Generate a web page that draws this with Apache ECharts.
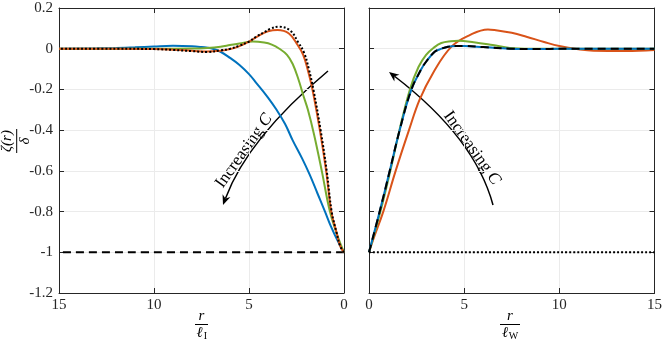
<!DOCTYPE html>
<html>
<head>
<meta charset="utf-8">
<script src="https://cdn.jsdelivr.net/npm/echarts@6/dist/echarts.min.js"></script>
<style>
  html, body { margin: 0; padding: 0; background: #fff; }
  #chart { width: 665px; height: 342px; }
</style>
</head>
<body>
<div id="chart"></div>
<script>
// axis ranges (same for both panels)
const rRange = [0, 15];
const rStep = 5;
const zRange = [-1.2, 0.2];
const zStep = 0.2;

// left panel, r / l_I  ->  [r, zeta/delta]
const leftBlue = [
  [0, -1], [0.3, -0.95], [0.7, -0.87], [1.0, -0.8], [1.4, -0.71], [1.8, -0.62],
  [2.2, -0.54], [2.7, -0.45], [3.1, -0.37], [3.55, -0.3], [4.0, -0.24], [4.6, -0.17],
  [5.0, -0.125], [5.5, -0.08], [6.0, -0.045], [6.5, -0.015], [7.0, 0.002], [7.5, 0.008],
  [8, 0.012], [9, 0.014], [10, 0.011], [11, 0.007], [12, 0.004], [13, 0.002], [15, 0]
];
const leftOrange = [
  [0, -1], [0.2, -0.97], [0.4, -0.9], [0.67, -0.8], [0.94, -0.6], [1.27, -0.4],
  [1.66, -0.2], [1.92, -0.1], [2.15, -0.03], [2.45, 0.02], [2.9, 0.075], [3.5, 0.092],
  [4.0, 0.085], [4.5, 0.063], [5.0, 0.035], [5.5, 0.013], [6.0, -0.002], [6.5, -0.01],
  [7.2, -0.014], [8, -0.01], [9, -0.005], [10, -0.002], [12, 0], [15, 0]
];
const leftGreen = [
  [0, -1], [0.3, -0.93], [0.74, -0.8], [1.17, -0.6], [1.58, -0.42], [1.9, -0.3],
  [2.14, -0.23], [2.4, -0.15], [2.7, -0.075], [3.0, -0.03], [3.4, 0], [3.8, 0.02],
  [4.2, 0.03], [4.8, 0.035], [5.5, 0.026], [6.0, 0.018], [6.5, 0.01], [7.2, 0.004],
  [8, 0.001], [10, 0], [15, 0]
];
const leftDotted = [
  [0, -1], [0.2, -0.97], [0.4, -0.9], [0.65, -0.8], [0.91, -0.6], [1.23, -0.4],
  [1.61, -0.2], [1.85, -0.1], [2.1, -0.02], [2.4, 0.03], [2.84, 0.09], [3.42, 0.108],
  [3.9, 0.097], [4.16, 0.083], [4.6, 0.06], [5.0, 0.035], [5.5, 0.015], [6.0, 0],
  [6.5, -0.008], [7.2, -0.016], [8, -0.012], [9, -0.006], [10, -0.002], [12, 0], [15, 0]
];
const leftBase = [[0, -1], [15, -1]];

// right panel, r / l_W
const rightBlue = [
  [0, -1], [0.56, -0.8], [1.09, -0.6], [1.61, -0.4], [2.23, -0.2], [2.75, -0.1],
  [3.0, -0.064], [3.45, -0.015], [3.7, -0.004], [4.15, 0.01], [4.6, 0.013], [5.0, 0.013],
  [6, 0.008], [7.4, 0], [9, -0.002], [10, 0], [15, 0]
];
const rightGreen = [
  [0, -1], [0.6, -0.8], [1.12, -0.6], [1.6, -0.4], [2.15, -0.2], [2.6, -0.09],
  [3.0, -0.03], [3.4, 0.005], [3.8, 0.028], [4.3, 0.037], [4.7, 0.039], [5.5, 0.032],
  [6.5, 0.018], [7.4, 0.004], [8.5, 0], [15, 0]
];
const rightOrange = [
  [0, -1], [0.21, -0.94], [0.75, -0.8], [1.4, -0.6], [2.1, -0.4], [2.66, -0.25],
  [3.36, -0.12], [4.33, 0.01], [5.29, 0.067], [6.25, 0.095], [6.6, 0.092], [7.5, 0.078],
  [8.27, 0.059], [9.2, 0.033], [10, 0.013], [11, -0.003], [11.8, -0.01], [13.5, -0.011],
  [15, -0.006]
];
const rightDashed = rightBlue;
const rightBase = [[0, -1], [15, -1]];

const BLUE = '#0072BD', ORANGE = '#D95319', GREEN = '#77AC30', INK = '#262626';
const FONT = '"Liberation Serif", "DejaVu Serif", serif';

const chart = echarts.init(document.getElementById('chart'), null, { renderer: 'canvas' });

function xAxis(gridIndex, position, labels, inverse) {
  return {
    type: 'value', gridIndex, position, min: rRange[0], max: rRange[1], interval: rStep, inverse,
    axisLine: { show: true, onZero: false, lineStyle: { color: INK, width: 1 } },
    axisTick: { show: true, inside: true, length: 5, lineStyle: { color: INK } },
    axisLabel: { show: labels, color: INK, fontFamily: FONT, fontSize: 15, margin: 5 },
    splitLine: { show: labels, lineStyle: { color: '#ebebeb' } }
  };
}
function yAxis(gridIndex, position, labels, grid) {
  return {
    type: 'value', gridIndex, position, min: zRange[0], max: zRange[1], interval: zStep,
    axisLine: { show: true, onZero: false, lineStyle: { color: INK, width: 1 } },
    axisTick: { show: true, inside: true, length: 5, lineStyle: { color: INK } },
    axisLabel: {
      show: labels, color: INK, fontFamily: FONT, fontSize: 15, margin: 6,
      formatter: v => String(+v.toFixed(1))
    },
    splitLine: { show: grid, lineStyle: { color: '#ebebeb' } }
  };
}
function line(data, xi, yi, color, type, z) {
  return {
    type: 'line', data, xAxisIndex: xi, yAxisIndex: yi, showSymbol: false,
    smooth: 0.4, z: z || 2, silent: true,
    lineStyle: { color, width: 2, type: type || 'solid' }
  };
}

// arrow drawn as a quadratic curve plus a head at its end
function arrow(p0, c, tip) {
  const dx = tip[0] - c[0], dy = tip[1] - c[1];
  const len = Math.hypot(dx, dy), ux = dx / len, uy = dy / len;
  const hl = 10, hw = 4.2;
  const bx = tip[0] - ux * hl, by = tip[1] - uy * hl;
  const ix = tip[0] - ux * hl * 0.7, iy = tip[1] - uy * hl * 0.7;
  return [
    { type: 'bezierCurve', shape: { x1: p0[0], y1: p0[1], cpx1: c[0], cpy1: c[1], x2: ix, y2: iy },
      style: { stroke: '#000', lineWidth: 1.5, fill: null } },
    { type: 'polygon', shape: { points: [tip, [bx - uy * hw, by + ux * hw], [ix, iy], [bx + uy * hw, by - ux * hw]] },
      style: { fill: '#000' } }
  ];
}
function label(text, x, y, rot, size, italic) {
  return { type: 'text', x, y, rotation: rot || 0,
    style: { text, font: (italic ? 'italic ' : '') + (size || 15) + 'px ' + FONT, fill: '#000',
      align: 'center', verticalAlign: 'middle' } };
}
function increasing(x, y, rot) {
  return { type: 'text', x, y, rotation: rot,
    style: { text: 'Increasing {c|C}', font: '17px ' + FONT, fill: '#000', align: 'center', verticalAlign: 'middle',
      rich: { c: { fontFamily: FONT, fontSize: 17, fontStyle: 'italic' } } } };
}
function fracLine(x1, x2, y) {
  return { type: 'line', shape: { x1, y1: y, x2, y2: y }, style: { stroke: '#000', lineWidth: 1 } };
}

chart.setOption({
  animation: false,
  backgroundColor: '#fff',
  grid: [
    { left: 59, top: 8, width: 285, height: 285 },
    { left: 369, top: 8, width: 286, height: 285 }
  ],
  xAxis: [
    xAxis(0, 'bottom', true, true),
    xAxis(1, 'bottom', true, false),
    xAxis(0, 'top', false, true),
    xAxis(1, 'top', false, false)
  ],
  yAxis: [
    yAxis(0, 'left', true, true),
    yAxis(1, 'left', false, true),
    yAxis(0, 'right', false, false),
    yAxis(1, 'right', false, false)
  ],
  series: [
    line(leftBase, 0, 0, '#000', [8, 5], 2),
    line(leftBlue, 0, 0, BLUE, 'solid', 3),
    line(leftGreen, 0, 0, GREEN, 'solid', 4),
    line(leftOrange, 0, 0, ORANGE, 'solid', 5),
    line(leftDotted, 0, 0, '#000', [2, 2], 6),
    line(rightOrange, 1, 1, ORANGE, 'solid', 3),
    line(rightGreen, 1, 1, GREEN, 'solid', 4),
    line(rightBlue, 1, 1, BLUE, 'solid', 5),
    line(rightDashed, 1, 1, '#000', [8, 5], 6),
    line(rightBase, 1, 1, '#000', [2, 2], 6)
  ],
  graphic: [
    // y label: zeta(r) / delta
    label('ζ(r)', 7.5, 141, Math.PI / 2, 15, true),
    { type: 'line', shape: { x1: 16.7, y1: 129, x2: 16.7, y2: 153 }, style: { stroke: '#000', lineWidth: 1 } },
    label('δ', 25, 141, Math.PI / 2, 15, true),
    // x label left: r / l_I
    label('r', 201.5, 316, 0, 15, true),
    fracLine(195, 208, 324.5),
    label('ℓ', 199.5, 333, 0, 15, true),
    label('I', 205.5, 336, 0, 10, false),
    // x label right: r / l_W
    label('r', 510, 316, 0, 15, true),
    fracLine(500, 520, 324.5),
    label('ℓ', 505, 333, 0, 15, true),
    label('W', 513.5, 336, 0, 10, false),
    // annotations
    ...arrow([328, 71], [248, 138], [223, 205]),
    increasing(244, 151, 0.956),
    ...arrow([493, 205], [475, 138], [389, 72]),
    increasing(472, 148, -0.951)
  ]
});
</script>
</body>
</html>
